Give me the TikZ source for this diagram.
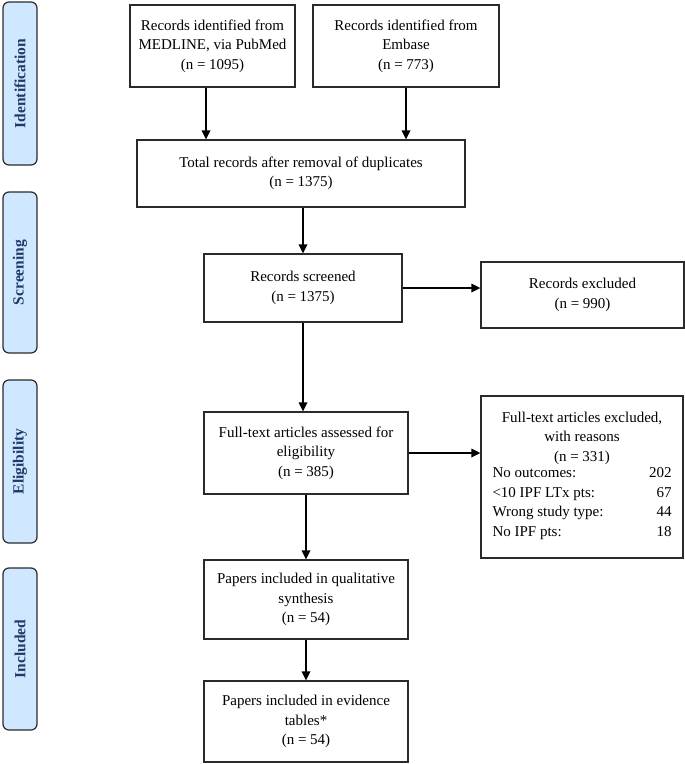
\documentclass[tikz,border=0pt]{standalone}
\usepackage{fontspec}
\setmainfont{Liberation Serif}
\usetikzlibrary{arrows.meta}
\definecolor{sidefill}{HTML}{CFE8FF}
\definecolor{sidetext}{HTML}{1F3A68}
\definecolor{edge}{HTML}{2A2A2A}
\tikzset{
  box/.style={draw=edge, line width=1.3pt, fill=white, align=center, inner sep=2pt,
    font=\fontsize{15}{19.5}\selectfont},
  sidelab/.style={draw=edge, line width=1.2pt, fill=sidefill, rounded corners=6pt,
    rotate=90, minimum height=34pt, inner sep=0pt,
    font=\fontsize{15.5}{17}\selectfont\bfseries, text=sidetext},
  flow/.style={line width=1.7pt, draw=black, -{Triangle[length=9pt,width=8.5pt]}}
}
\begin{document}
\begin{tikzpicture}[x=1pt,y=-1pt]
\useasboundingbox (0,0) rectangle (685,764);
% side labels
\node[sidelab, minimum width=163pt] (sid) at (20,83.5) {Identification};
\node[sidelab, minimum width=161pt] (sscr) at (20,272.5) {Screening};
\node[sidelab, minimum width=163pt] (sel) at (20,461.5) {Eligibility};
\node[sidelab, minimum width=162pt] (sinc) at (20,649) {Included};
% boxes
\node[box, minimum width=165pt, minimum height=82pt] (med) at (212.5,46) {Records identified from\\MEDLINE, via PubMed\\(n = 1095)};
\node[box, minimum width=186pt, minimum height=82pt] (emb) at (406,46) {Records identified from\\Embase\\(n = 773)};
\node[box, minimum width=328pt, minimum height=67pt] (tot) at (301,173.5) {Total records after removal of duplicates\\(n = 1375)};
\node[box, minimum width=198pt, minimum height=68pt] (scr) at (303,288) {Records screened\\(n = 1375)};
\node[box, minimum width=203pt, minimum height=66pt] (exc) at (582.5,295) {Records excluded\\(n = 990)};
\node[box, minimum width=204pt, minimum height=82pt] (ft) at (306,453) {Full-text articles assessed for\\eligibility\\(n = 385)};
\node[box, minimum width=202pt, minimum height=162pt] (ftx) at (582,477) {Full-text articles excluded,\\with reasons\\(n = 331)\\[-1pt]
\begin{tabular*}{179pt}{@{}l@{\extracolsep{\fill}}r@{}}
No outcomes: & 202\\
<10 IPF LTx pts: & 67\\
Wrong study type: & 44\\
No IPF pts: & 18
\end{tabular*}};
\node[box, minimum width=204pt, minimum height=79pt] (qual) at (306,599.5) {Papers included in qualitative\\synthesis\\(n = 54)};
\node[box, minimum width=204pt, minimum height=81pt] (evid) at (306,721.5) {Papers included in evidence\\tables*\\(n = 54)};
% connectors
\draw[flow] ([xshift=-6.5pt]med.south) -- ([xshift=-6.5pt]med.south |- tot.north);
\draw[flow] (emb.south) -- (emb.south |- tot.north);
\draw[flow] (scr.north |- tot.south) -- (scr.north);
\draw[flow] (scr.east) -- (scr.east -| exc.west);
\draw[flow] (scr.south) -- (scr.south |- ft.north);
\draw[flow] (ft.east) -- (ft.east -| ftx.west);
\draw[flow] (ft.south) -- (qual.north);
\draw[flow] (qual.south) -- (evid.north);
\end{tikzpicture}
\end{document}
